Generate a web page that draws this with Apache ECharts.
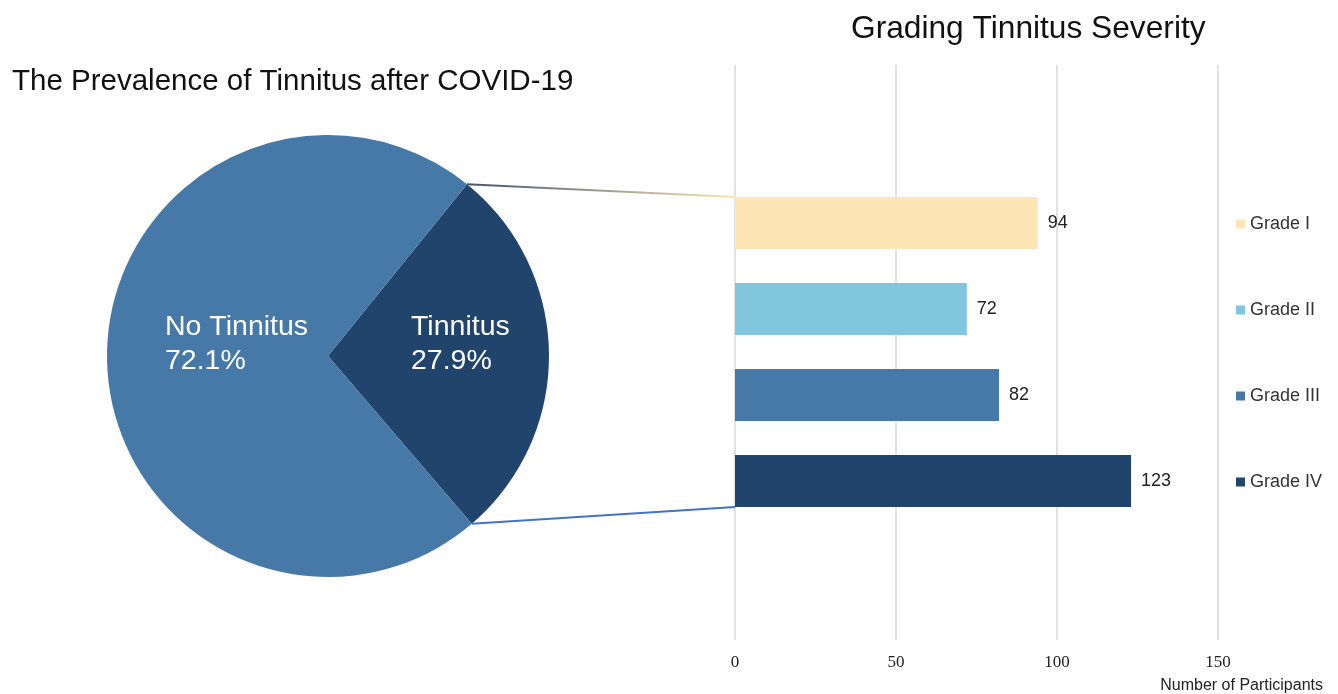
<!DOCTYPE html>
<html>
<head>
<meta charset="utf-8">
<script src="https://cdn.jsdelivr.net/npm/echarts@6/dist/echarts.min.js"></script>
<style>
html,body{margin:0;padding:0;background:#fff;}
#main{width:1338px;height:694px;}
</style>
</head>
<body>
<div id="main"></div>
<script>
// ---- data ----
const pieNames = ['Tinnitus', 'No Tinnitus'];
const piePercents = [27.9, 72.1];
const gradeNames = ['Grade I', 'Grade II', 'Grade III', 'Grade IV'];
const gradeCounts = [94, 72, 82, 123];
const xTicks = [0, 50, 100, 150];

// ---- styles ----
const pieColors = ['#20446b', '#4679a7'];
const gradeColors = ['#fde5b6', '#82c6de', '#4679a7', '#20446b'];
const FONT = "'Liberation Sans', Arial, sans-serif";

const chart = echarts.init(document.getElementById('main'));

const pieCenter = [328, 356];
const pieRadius = 221;
const wedgeMid = 0.8; // degrees, centre direction of the Tinnitus wedge
const total = piePercents.reduce((a, b) => a + b, 0);
const wedgeSpan = piePercents[0] / total * 360;
const startAngle = wedgeMid + wedgeSpan / 2;
// label placement relative to the pie centre: [left offset per slice], top offset
const labelLeftOffset = [83, -163];
const labelTopOffset = -43;

const barSeries = gradeNames.map((g, i) => ({
  name: g,
  type: 'bar',
  stack: 'grades',
  xAxisIndex: 0,
  yAxisIndex: 0,
  barWidth: 52,
  itemStyle: { color: gradeColors[i] },
  label: {
    show: true, position: 'right', distance: 10,
    fontFamily: FONT, fontSize: 18, color: '#222'
  },
  data: gradeNames.map((c, j) => (j === i ? gradeCounts[i] : '-'))
}));

const option = {
  animation: false,
  backgroundColor: '#fff',
  title: [
    { text: 'The Prevalence of Tinnitus after COVID-19', left: 7, top: 62,
      textStyle: { fontFamily: FONT, fontSize: 29.5, fontWeight: 'normal', color: '#111' } },
    { text: 'Grading Tinnitus Severity', left: 846, top: 8,
      textStyle: { fontFamily: FONT, fontSize: 31.7, fontWeight: 'normal', color: '#111' } },
    { text: 'Number of Participants', right: 10, top: 673,
      textStyle: { fontFamily: FONT, fontSize: 16, fontWeight: 'normal', color: '#222' } }
  ],
  legend: {
    orient: 'vertical', left: 1231, top: 209,
    itemWidth: 9, itemHeight: 9, itemGap: 66, icon: 'rect',
    textStyle: { fontFamily: FONT, fontSize: 18, lineHeight: 20, color: '#333' },
    data: gradeNames
  },
  grid: [
    { left: 735, width: 483, top: 180, height: 344 },
    { left: 735, width: 483, top: 65, height: 575 }
  ],
  xAxis: [
    { gridIndex: 0, type: 'value', min: 0, max: 150, interval: 50,
      axisLine: { show: false }, axisTick: { show: false }, axisLabel: { show: false }, splitLine: { show: false } },
    { gridIndex: 1, type: 'value', min: 0, max: 150, interval: 50, data: xTicks,
      axisLine: { show: false }, axisTick: { show: false },
      axisLabel: { fontFamily: "'Liberation Serif', 'Times New Roman', serif", fontSize: 17, color: '#222', margin: 14 },
      splitLine: { show: true, lineStyle: { color: '#d9d9d9', width: 1.5 } } }
  ],
  yAxis: [
    { gridIndex: 0, type: 'category', inverse: true, data: gradeNames,
      axisLine: { show: false }, axisTick: { show: false }, axisLabel: { show: false } },
    { gridIndex: 1, type: 'category', data: ['a'], show: false }
  ],
  series: [
    {
      type: 'pie',
      center: pieCenter,
      radius: pieRadius,
      startAngle: startAngle,
      clockwise: true,
      label: {
        show: true, position: 'inside',
        formatter: p => '{t|' + p.name + '}\n{t|' + p.value.toFixed(1) + '%}',
        rich: { t: { fontFamily: FONT, fontSize: 28.5, lineHeight: 34, color: '#fff', align: 'left', width: 150 } }
      },
      labelLayout: p => ({
        dx: pieCenter[0] + labelLeftOffset[p.dataIndex] - p.labelRect.x,
        dy: pieCenter[1] + labelTopOffset - p.labelRect.y
      }),
      labelLine: { show: false },
      itemStyle: { borderWidth: 0 },
      data: pieNames.map((n, i) => ({ name: n, value: piePercents[i], itemStyle: { color: pieColors[i] } }))
    },
    ...barSeries
  ]
};

chart.setOption(option);

// connector lines from the Tinnitus wedge corners to the stacked bar block
function drawConnectors() {
  const rad = d => d * Math.PI / 180;
  const a1 = rad(startAngle), a2 = rad(startAngle - wedgeSpan);
  const p1 = [pieCenter[0] + pieRadius * Math.cos(a1), pieCenter[1] - pieRadius * Math.sin(a1)];
  const p2 = [pieCenter[0] + pieRadius * Math.cos(a2), pieCenter[1] - pieRadius * Math.sin(a2)];
  const topBar = chart.convertToPixel({ xAxisIndex: 0, yAxisIndex: 0 }, [0, gradeNames[0]]);
  const botBar = chart.convertToPixel({ xAxisIndex: 0, yAxisIndex: 0 }, [0, gradeNames[gradeNames.length - 1]]);
  const q1 = [topBar[0], topBar[1] - 26];
  const q2 = [botBar[0], botBar[1] + 26];
  chart.setOption({
    graphic: [
      { type: 'line', z: 10, shape: { x1: p1[0], y1: p1[1], x2: q1[0], y2: q1[1] },
        style: { lineWidth: 2,
          stroke: new echarts.graphic.LinearGradient(0, 0, 1, 0, [
            { offset: 0, color: '#44546a' }, { offset: 1, color: '#fde5b6' }]) } },
      { type: 'line', z: 10, shape: { x1: p2[0], y1: p2[1], x2: q2[0], y2: q2[1] },
        style: { lineWidth: 2, stroke: '#4472c4' } }
    ]
  });
}
drawConnectors();
</script>
</body>
</html>
